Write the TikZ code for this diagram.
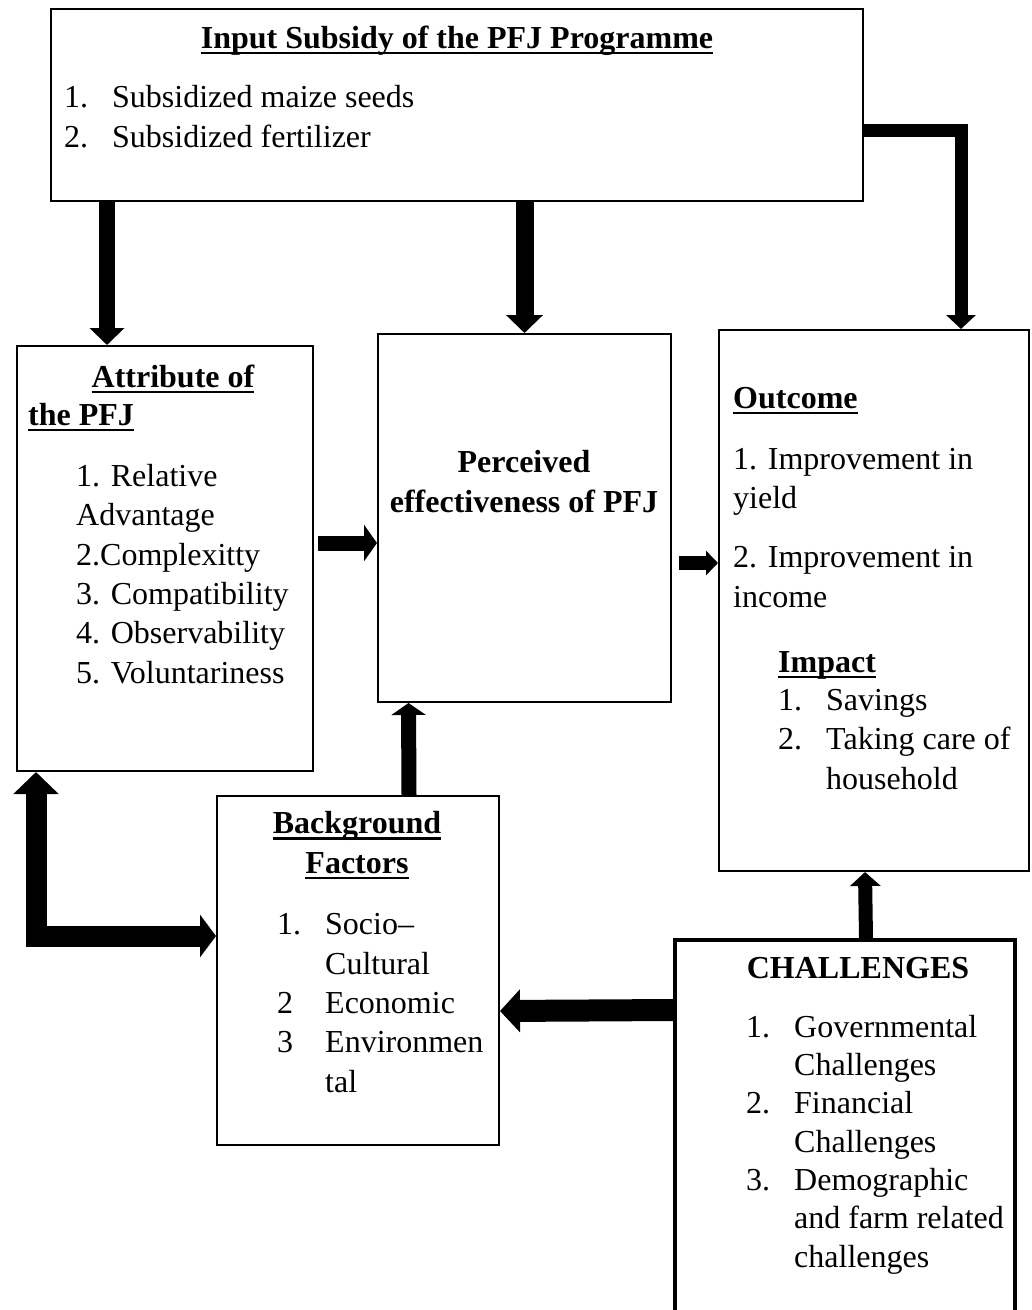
\documentclass[tikz,border=0pt]{standalone}
\usepackage{fontspec}
\setmainfont{Liberation Serif}
\usetikzlibrary{arrows.meta}
\newcommand{\bodyfont}{\fontsize{32}{39.3}\selectfont}
\newcommand{\ulhead}[1]{\setbox0=\hbox{\bfseries #1}\rlap{\usebox0}\rule[-6pt]{\wd0}{2.5pt}}
\newcommand{\itm}[1]{\makebox[48pt][l]{#1}}
\tikzstyle{box} = [draw, line width=2pt, rectangle, inner sep=0pt, anchor=north west]
\tikzstyle{txt} = [inner sep=0pt, anchor=base west, align=left, font=\bodyfont]
\tikzstyle{arrow} = [line width=16pt, -{Triangle[length=17pt,width=34pt]}]

\begin{document}
\begin{tikzpicture}[x=1pt, y=-1pt]
\useasboundingbox (0,0) rectangle (1032,1310);
\clip (0,0) rectangle (1032,1310);

% Boxes
\node[box, minimum width=812pt, minimum height=192pt] (inp) at (50,8) {};
\node[box, minimum width=296pt, minimum height=425pt] (attr) at (16,345) {};
\node[box, minimum width=293pt, minimum height=368pt] (perc) at (377,333) {};
\node[box, minimum width=310pt, minimum height=541pt] (outc) at (718,329) {};
\node[box, minimum width=282pt, minimum height=349pt] (bg) at (216,795) {};
\node[box, line width=4pt, minimum width=340pt, minimum height=420pt] (chal) at (673,938) {};

% Labels (base = last line)
\node[txt, anchor=base] (inpT) at (457,48) {\ulhead{Input Subsidy of the PFJ Programme}};
\node[txt] (inpL) at (64,147) {\itm{1.}Subsidized maize seeds\\\itm{2.}Subsidized fertilizer};

\node[txt, anchor=base] (attrT) at (173,387) {\ulhead{Attribute of}};
\node[txt] (attrT2) at (28,425) {\ulhead{the PFJ}};
\node[txt] (attrL) at (76,683) {1. Relative\\Advantage\\2.Complexitty\\3. Compatibility\\4. Observability\\5. Voluntariness};

\node[txt, anchor=base, align=center, font=\bodyfont\bfseries] (percT) at (524,512) {Perceived\\effectiveness of PFJ};

\node[txt] (outcT) at (733,408) {\ulhead{Outcome}};
\node[txt] (outcL) at (733,607) {1. Improvement in\\yield\\[20pt]2. Improvement in\\income};
\node[txt] (impT) at (778,672) {\ulhead{Impact}};
\node[txt] (impL) at (778,789) {\itm{1.}Savings\\\itm{2.}Taking care of\\\itm{}household};

\node[txt, anchor=base, align=center] (bgT) at (357,873) {\ulhead{Background}\\\ulhead{Factors}};
\node[txt] (bgL) at (277,1092) {\itm{1.}Socio–\\\itm{}Cultural\\\itm{2}Economic\\\itm{3}Environmen\\\itm{}tal};

\node[txt, anchor=base, font=\bodyfont\bfseries] (chalT) at (858,978) {CHALLENGES};
\node[txt, font=\fontsize{32}{38.3}\selectfont] (chalL) at (746,1267) {\itm{1.}Governmental\\\itm{}Challenges\\\itm{2.}Financial\\\itm{}Challenges\\\itm{3.}Demographic\\\itm{}and farm related\\\itm{}challenges};

% Arrows
\draw[arrow] ([xshift=57pt]inp.south west) -- ([xshift=91pt]attr.north west);
\draw[arrow, line width=18pt, -{Triangle[length=18pt,width=36pt]}] (inp.south -| perc.north) -- (perc.north);
\draw[arrow, line width=13pt, -{Triangle[length=14pt,width=29pt]}] ([yshift=-25pt]inp.east) -| ([xshift=87pt]outc.north);
\draw[arrow, line width=15pt, -{Triangle[length=13pt,width=36pt]}] ([xshift=4pt,yshift=15.5pt]attr.east) -- ([yshift=-25pt]perc.west);
\draw[arrow, line width=14pt, -{Triangle[length=12pt,width=24pt]}] ([xshift=7pt,yshift=-45pt]perc.east) -- ([yshift=37.5pt]outc.west);
\draw[arrow, line width=15pt, -{Triangle[length=12pt,width=34pt]}] ([xshift=51pt]bg.north) -- ([xshift=-116pt]perc.south);
\draw[arrow, line width=14pt, -{Triangle[length=14pt,width=30pt]}] ([xshift=21pt]chal.north) -- ([xshift=-9pt]outc.south);
\draw[arrow, line width=22pt, -{Triangle[length=20pt,width=42pt]}] ([yshift=-72pt]chal.north west) -- ([yshift=-40.5pt]bg.east);
\draw[arrow, line width=21pt, {Triangle[length=22pt,width=44pt]}-{Triangle[length=16pt,width=42pt]}] ([xshift=20pt]attr.south west) |- ([yshift=34.5pt]bg.west);
\end{tikzpicture}
\end{document}
